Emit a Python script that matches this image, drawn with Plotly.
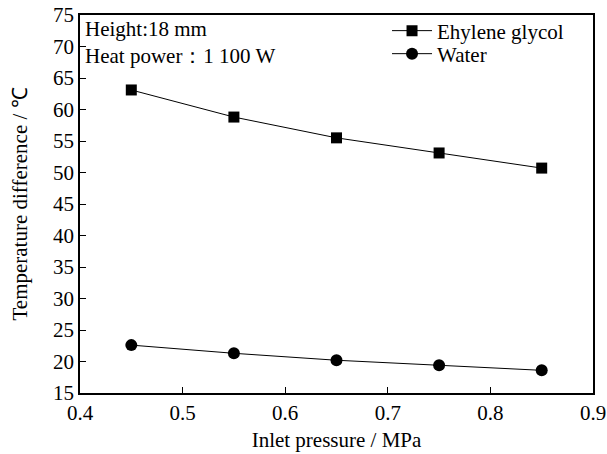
import plotly.graph_objects as go

pressure = [0.45, 0.55, 0.65, 0.75, 0.85]
glycol = [63.1, 58.8, 55.5, 53.1, 50.7]
water = [22.6, 21.3, 20.2, 19.4, 18.6]
x_ticks = [0.4, 0.5, 0.6, 0.7, 0.8, 0.9]
y_ticks = [15, 20, 25, 30, 35, 40, 45, 50, 55, 60, 65, 70, 75]

FONT = "Liberation Serif, Times New Roman, serif"
FS = 21

fig = go.Figure()
fig.add_trace(go.Scatter(x=pressure, y=glycol, mode="lines+markers", name="Ehylene glycol",
                         line=dict(color="black", width=1), legend="legend",
                         marker=dict(symbol="square", size=11, color="black")))
fig.add_trace(go.Scatter(x=pressure, y=water, mode="lines+markers", name="Water",
                         line=dict(color="black", width=1), legend="legend2",
                         marker=dict(symbol="circle", size=12, color="black")))

leg_common = dict(xanchor="left", yanchor="middle", bgcolor="rgba(0,0,0,0)",
                  font=dict(size=FS, family=FONT), itemwidth=40)

fig.update_layout(
    width=607, height=454,
    margin=dict(l=80, r=14, t=15, b=61, autoexpand=False),
    paper_bgcolor="white", plot_bgcolor="white",
    font=dict(family=FONT, size=FS, color="black"),
    showlegend=True,
    legend=dict(x=0.5985, y=0.9577, **leg_common),
    legend2=dict(x=0.5985, y=0.8968, **leg_common),
    xaxis=dict(range=[0.4, 0.9], tickvals=x_ticks, ticktext=[f"{v:.1f}" for v in x_ticks],
               ticks="inside", ticklen=6, tickcolor="black", automargin=False,
               ticklabeloverflow="allow",
               showline=True, linecolor="black", linewidth=1.5, mirror=True,
               showgrid=False, zeroline=False,
               title=dict(text="Inlet pressure / MPa", font=dict(size=FS), standoff=8)),
    yaxis=dict(range=[15, 75], tickvals=y_ticks, automargin=False,
               ticklabeloverflow="allow",
               ticks="inside", ticklen=6, tickcolor="black",
               showline=True, linecolor="black", linewidth=1.5, mirror=True,
               showgrid=False, zeroline=False,
               title=dict(text="Temperature difference / ℃", font=dict(size=FS), standoff=20)),
    annotations=[dict(text="Height:18 mm<br>Heat power：1 100 W", xref="paper", yref="paper",
                      x=0.005, y=1.0, xanchor="left", yanchor="top", showarrow=False,
                      align="left", font=dict(size=FS, family=FONT))],
)

fig.write_html("out.html")
